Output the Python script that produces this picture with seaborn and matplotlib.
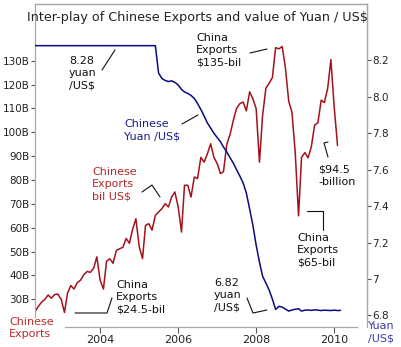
import matplotlib
matplotlib.use("Agg")
import matplotlib.pyplot as plt
import matplotlib.dates as mdates
from matplotlib.lines import Line2D
import pandas as pd
import seaborn as sns

# ---------------- data ----------------
exports_bil = [
    24.8, 27.0, 28.8, 30.0, 31.8, 30.5, 32.0, 32.2, 30.0, 24.5,
    32.5, 35.8, 34.3, 37.0, 38.0, 40.3, 41.7, 41.3, 43.0, 47.8,
    38.0, 34.3, 46.0, 47.0, 45.1, 50.5, 51.2, 51.8, 55.5, 53.5,
    59.5, 63.8, 52.0, 47.1, 61.0, 61.7, 59.0, 65.2, 66.6, 68.0,
    70.1, 68.7, 72.9, 75.0, 68.7, 58.2, 77.8, 77.8, 72.9, 81.3,
    80.6, 89.5, 87.5, 91.0, 95.2, 89.6, 86.9, 82.7, 83.5, 95.0,
    99.0, 105.0, 110.0, 112.0, 112.7, 109.0, 117.0, 114.1, 109.9, 87.5,
    107.0, 118.5, 120.5, 123.0, 135.5, 135.0, 136.0, 127.0, 113.0, 108.5,
    91.5, 65.0, 89.5, 91.5, 89.3, 94.0, 103.0, 104.0, 113.5, 112.5,
    118.5, 130.5, 110.5, 94.5,
]
yuan_per_usd = [
    8.28, 8.28, 8.28, 8.28, 8.28, 8.28, 8.28, 8.28, 8.28, 8.28,
    8.28, 8.28, 8.28, 8.28, 8.28, 8.28, 8.28, 8.28, 8.28, 8.28,
    8.28, 8.28, 8.28, 8.28, 8.28, 8.28, 8.28, 8.28, 8.28, 8.28,
    8.28, 8.28, 8.28, 8.28, 8.28, 8.28, 8.28, 8.28, 8.13, 8.10,
    8.089, 8.083, 8.087, 8.079, 8.064, 8.04, 8.026, 8.018, 8.007, 7.99,
    7.963, 7.93, 7.894, 7.856, 7.828, 7.80, 7.776, 7.753, 7.724, 7.697,
    7.666, 7.636, 7.60, 7.565, 7.527, 7.472, 7.384, 7.296, 7.186, 7.093,
    7.016, 6.978, 6.94, 6.89, 6.833, 6.85, 6.846, 6.835, 6.824, 6.83,
    6.834, 6.837, 6.824, 6.829, 6.83, 6.828, 6.831, 6.829, 6.827, 6.829,
    6.828, 6.827, 6.829, 6.827, 6.828,
]
start_month = "2002-05-01"
left_ticks = [30, 40, 50, 60, 70, 80, 90, 100, 110, 120, 130]
left_tick_labels = ["30B", "40B", "50B", "60B", "70B", "80B", "90B",
                    "100B", "110B", "120B", "130B"]
right_ticks = [6.8, 7.0, 7.2, 7.4, 7.6, 7.8, 8.0, 8.2]
right_tick_labels = ["6.8", "7", "7.2", "7.4", "7.6", "7.8", "8.0", "8.2"]
year_labels = ["2004", "2006", "2008", "2010"]

export_months = pd.date_range(start_month, periods=len(exports_bil), freq="MS")
yuan_months = pd.date_range(start_month, periods=len(yuan_per_usd), freq="MS")
df_exp = pd.DataFrame({"month": export_months, "exports": exports_bil})
df_yuan = pd.DataFrame({"month": yuan_months, "yuan": yuan_per_usd})

# ---------------- style ----------------
sns.set_theme(style="white")
plt.rcParams["font.family"] = ["DejaVu Sans"]

W, H = 402, 347
fig = plt.figure(figsize=(W / 100, H / 100), dpi=100)
fig.patch.set_facecolor("white")

def fx(x):
    return x / W

def fy(y):
    return 1 - y / H

ax = fig.add_axes([fx(35), fy(327), fx(367) - fx(35), fy(4) - fy(327)])
ax2 = ax.twinx()

RED = "#a3121a"
NAVY = "#0a0a80"
GRAY = "#a8a8a8"

sns.lineplot(data=df_exp, x="month", y="exports", ax=ax, color=RED,
             linewidth=1.1, legend=False)
sns.lineplot(data=df_yuan, x="month", y="yuan", ax=ax2, color=NAVY,
             linewidth=1.1, legend=False)

ax.set_ylim(18.4, 153.8)
ax2.set_ylim(6.7367, 8.5085)
x_left = pd.Timestamp(start_month)
x_right = x_left + pd.Timedelta(days=3109)
ax.set_xlim(x_left, x_right)

ax.set_xlabel("")
ax.set_ylabel("")
ax2.set_ylabel("")

# ticks
ax.set_yticks(left_ticks)
ax.set_yticklabels(left_tick_labels)
ax2.set_yticks(right_ticks)
ax2.set_yticklabels(right_tick_labels)
ax.set_xticks([pd.Timestamp(f"{y}-01-01") for y in year_labels])
ax.set_xticklabels(year_labels)

ax.tick_params(axis="y", which="major", left=True, length=3, width=0.8,
               color="#555555", labelsize=7.5, pad=1, labelcolor="#222222")
ax2.tick_params(axis="y", which="major", right=True, length=3, width=0.8,
                color="#555555", labelsize=7.5, pad=1, labelcolor="#222222")
ax.tick_params(axis="x", which="major", bottom=True, length=4, width=0.8,
               color="#555555", labelsize=8, pad=2, labelcolor="#222222")

for a in (ax, ax2):
    for s in a.spines.values():
        s.set_color(GRAY)
        s.set_linewidth(0.9)
ax.spines["bottom"].set_bounds(mdates.date2num(pd.Timestamp("2003-02-07")),
                               mdates.date2num(pd.Timestamp("2010-08-03")))
ax.spines["left"].set_bounds(22.6, 153.8)
ax2.spines["right"].set_bounds(6.78, 8.5085)
ax2.spines["left"].set_visible(False)
ax2.spines["bottom"].set_visible(False)

ax.grid(False)
ax2.grid(False)

# ---------------- texts ----------------
fig.text(fx(197), fy(17), "Inter-play of Chinese Exports and value of Yuan / US$",
         ha="center", va="center", fontsize=9.2, color="#222222")

def block(x, y_top, s, color="#111111", size=8, ls=1.27):
    fig.text(fx(x), fy(y_top), s, ha="left", va="top", fontsize=size,
             color=color, linespacing=ls)

block(69, 56, "8.28\nyuan\n/US$")
block(196, 33, "China\nExports\n$135-bil")
block(124, 119, "Chinese\nYuan /US$", color="#1c1c8a")
block(92, 167, "Chinese\nExports\nbil US$", color="#b5272b")
block(116, 280, "China\nExports\n$24.5-bil")
block(318, 165, "$94.5\n-billion")
block(297, 233, "China\nExports\n$65-bil")
block(214, 278, "6.82\nyuan\n/US$")
block(9, 317, "Chinese\nExports", color="#c0282c")
block(368, 321, "Yuan\n/US$", color="#3a3aa8")

def leader(pts):
    xs = [fx(p[0]) for p in pts]
    ys = [fy(p[1]) for p in pts]
    fig.add_artist(Line2D(xs, ys, transform=fig.transFigure, color="#111111",
                          linewidth=0.8))

leader([(102, 70), (115, 50)])
leader([(250, 53), (267, 49)])
leader([(182, 124), (198, 115)])
leader([(142, 192), (152, 185), (160, 197)])
leader([(75, 313), (107, 313), (112, 298)])
leader([(328, 142), (324, 143), (328, 157)])
leader([(307, 211), (323, 211), (323, 230)])
leader([(247, 298), (253, 313), (267, 310)])

fig.savefig("out.png", dpi=100, facecolor="white")
